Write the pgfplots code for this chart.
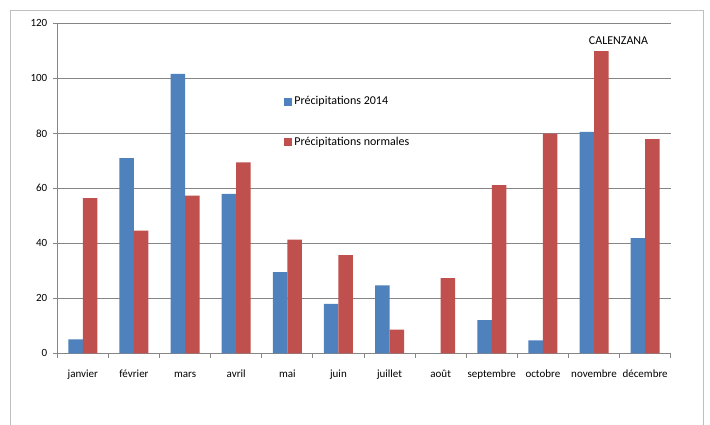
\documentclass[border=0pt]{standalone}
\usepackage{fontspec}
\setmainfont{Carlito}
\usepackage{pgfplots}
\pgfplotsset{compat=1.18}
\definecolor{xblue}{HTML}{4F81BD}
\definecolor{xred}{HTML}{C0504D}
\definecolor{gridc}{HTML}{868686}
\definecolor{framec}{HTML}{BFBFBF}
\begin{document}
\begin{tikzpicture}[x=1pt,y=1pt]
\useasboundingbox (-57.3,-70.7) rectangle (652.7,353.3);
\fill[white] (-57.3,-70.7) rectangle (652.7,353.3);
\draw[framec, line width=1pt] (-46.6,-75) -- (-46.6,342.6) -- (645.7,342.6) -- (645.7,-75);
\begin{axis}[
  at={(0,0)}, anchor=south west,
  scale only axis, width=613.4pt, height=330pt,
  xmin=-0.5, xmax=11.5, ymin=0, ymax=120,
  ybar=0pt, bar width=14.5pt,
  axis x line*=bottom, axis y line*=left,
  axis line style={gridc, line width=0.8pt},
  every tick/.style={gridc, line width=0.8pt},
  tick align=outside, major tick length=4.5pt,
  ytick={0,20,...,120},
  /pgf/number format/assume math mode=true,
  ymajorgrids, grid style={gridc, line width=0.8pt},
  xtick={-0.5,0.5,...,11.5},
  x tick label as interval,
  xticklabels={janvier,février,mars,avril,mai,juin,juillet,août,septembre,octobre,novembre,décembre},
  tick label style={font=\fontsize{11}{13}\selectfont, text=black},
  xticklabel style={yshift=-8pt, text height=8pt, text depth=2pt},
  yticklabel style={xshift=-2pt},
  legend image code/.code={\fill[#1] (0pt,-4pt) rectangle (8pt,4pt);},
  legend style={draw=none, fill=none, at={(rel axis cs:0.370,0.701)}, anchor=west,
    inner sep=0pt, row sep=27pt, font=\fontsize{12}{14}\selectfont,
    legend cell align=left},
]
\addplot[fill=xblue, draw=none] coordinates {(0,5.1) (1,71.0) (2,101.6) (3,58.0) (4,29.5) (5,18.0) (6,24.7) (7,0) (8,12.1) (9,4.7) (10,80.5) (11,41.9)};
\addplot[fill=xred, draw=none] coordinates {(0,56.4) (1,44.6) (2,57.3) (3,69.4) (4,41.3) (5,35.7) (6,8.6) (7,27.3) (8,61.2) (9,79.9) (10,109.9) (11,77.9)};
\legend{Précipitations 2014, Précipitations normales}
\node[font=\fontsize{12}{14}\selectfont] at (axis cs:10.48,113.7) {CALENZANA};
\end{axis}
\end{tikzpicture}
\end{document}
